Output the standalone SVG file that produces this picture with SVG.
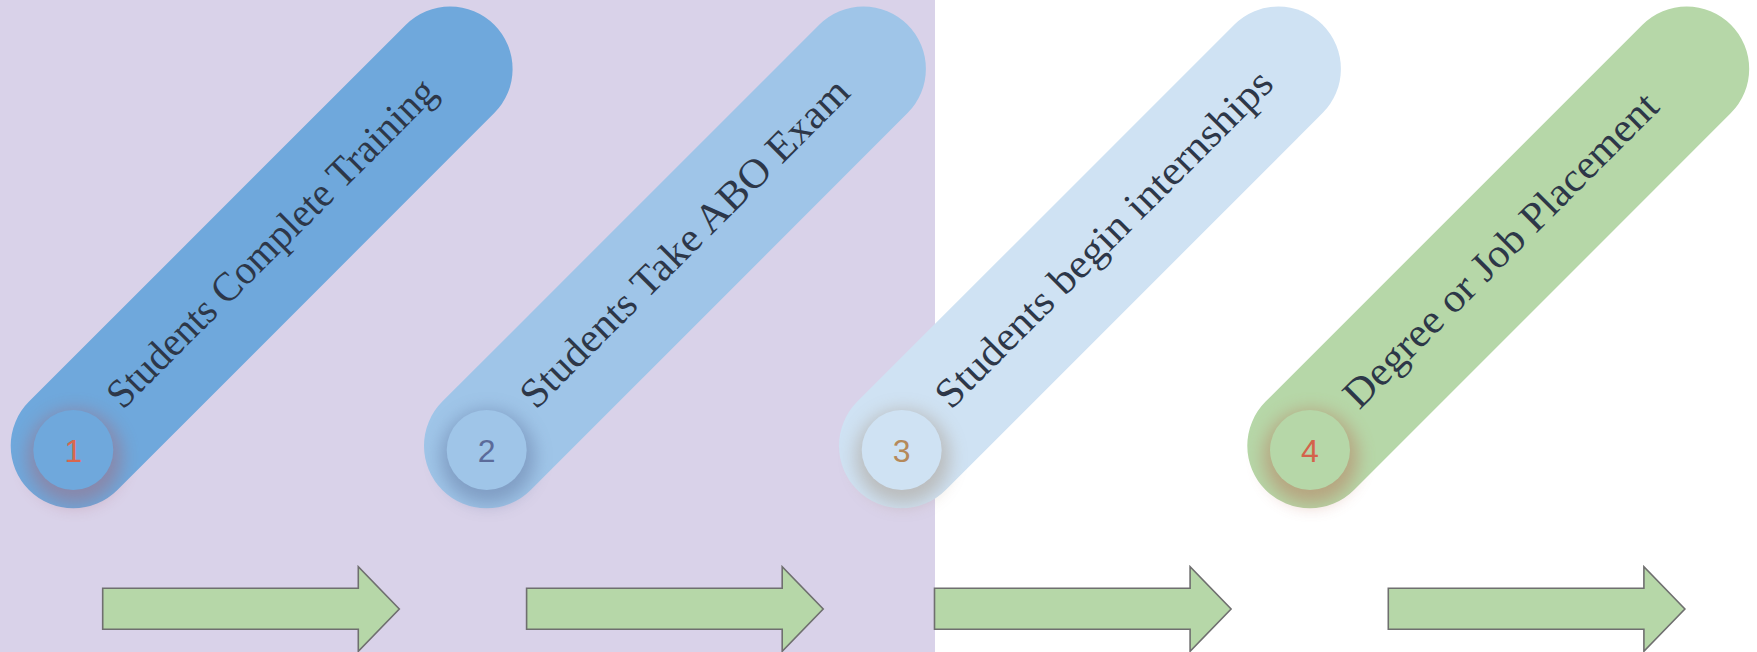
<svg xmlns="http://www.w3.org/2000/svg" width="1757" height="652" viewBox="0 0 1757 652">
  <style>
    .label { font-family: "Liberation Serif", "Times New Roman", serif; font-size: 41px; fill: #2d3748; }
    .num { font-family: "Liberation Sans", Arial, sans-serif; font-size: 32px; text-anchor: middle; }
    .arrow { fill: #b6d7a8; stroke: #6f6f6f; stroke-width: 1.6; stroke-linejoin: miter; }
  </style>
  <defs>
    <filter id="soft" x="-80%" y="-80%" width="260%" height="260%">
      <feGaussianBlur stdDeviation="9"/>
    </filter>
  </defs>

  <rect id="background-panel" x="0" y="0" width="935" height="652" fill="#d9d2e9"/>
  <rect x="935" y="0" width="822" height="652" fill="#ffffff"/>

  <g id="step-1">
    <g transform="translate(73.2,445.8) rotate(-45)">
      <rect x="-62.5" y="-62.5" width="658" height="125" rx="62.5" fill="#6fa8dc"/>
      <text class="label" x="60" y="10" textLength="447" lengthAdjust="spacingAndGlyphs">Students Complete Training</text>
    </g>
    <circle cx="75" cy="457" r="47" fill="#a8606e" opacity="0.45" filter="url(#soft)"/>
    <circle cx="73.3" cy="450" r="40" fill="#6fa8dc"/>
    <text class="num" x="73.3" y="461.5" fill="#d9674e">1</text>
  </g>

  <g id="step-2">
    <g transform="translate(486.5,445.8) rotate(-45)">
      <rect x="-62.5" y="-62.5" width="658" height="125" rx="62.5" fill="#9fc5e8"/>
      <text class="label" x="60" y="10" textLength="447" lengthAdjust="spacingAndGlyphs">Students Take ABO Exam</text>
    </g>
    <circle cx="488" cy="457" r="47" fill="#4f5f8a" opacity="0.38" filter="url(#soft)"/>
    <circle cx="486.7" cy="450" r="40" fill="#9fc5e8"/>
    <text class="num" x="486.7" y="461.5" fill="#5b6b9a">2</text>
  </g>

  <g id="step-3">
    <g transform="translate(901.5,445.8) rotate(-45)">
      <rect x="-62.5" y="-62.5" width="658" height="125" rx="62.5" fill="#cfe2f3"/>
      <text class="label" x="60" y="10" textLength="459" lengthAdjust="spacingAndGlyphs">Students begin internships</text>
    </g>
    <circle cx="903" cy="457" r="47" fill="#9a8066" opacity="0.38" filter="url(#soft)"/>
    <circle cx="901.7" cy="450" r="40" fill="#cfe2f3"/>
    <text class="num" x="901.7" y="461.5" fill="#b5895a">3</text>
  </g>

  <g id="step-4">
    <g transform="translate(1309.8,445.8) rotate(-45)">
      <rect x="-62.5" y="-62.5" width="658" height="125" rx="62.5" fill="#b6d7a8"/>
      <text class="label" x="60" y="10" textLength="427" lengthAdjust="spacingAndGlyphs">Degree or Job Placement</text>
    </g>
    <circle cx="1311" cy="457" r="47" fill="#b8604a" opacity="0.42" filter="url(#soft)"/>
    <circle cx="1310" cy="450" r="40" fill="#b6d7a8"/>
    <text class="num" x="1310" y="461.5" fill="#d4634b">4</text>
  </g>

  <g id="connectors">
    <path class="arrow" d="M102.7,588.3 H358.3 V566.7 L399.3,609 L358.3,651.3 V629.3 H102.7 Z"/>
    <path class="arrow" d="M526.6,588.3 H782.2 V566.7 L823.2,609 L782.2,651.3 V629.3 H526.6 Z"/>
    <path class="arrow" d="M934.5,588.3 H1190.1 V566.7 L1231.1,609 L1190.1,651.3 V629.3 H934.5 Z"/>
    <path class="arrow" d="M1388.3,588.3 H1643.9 V566.7 L1684.9,609 L1643.9,651.3 V629.3 H1388.3 Z"/>
  </g>
</svg>
